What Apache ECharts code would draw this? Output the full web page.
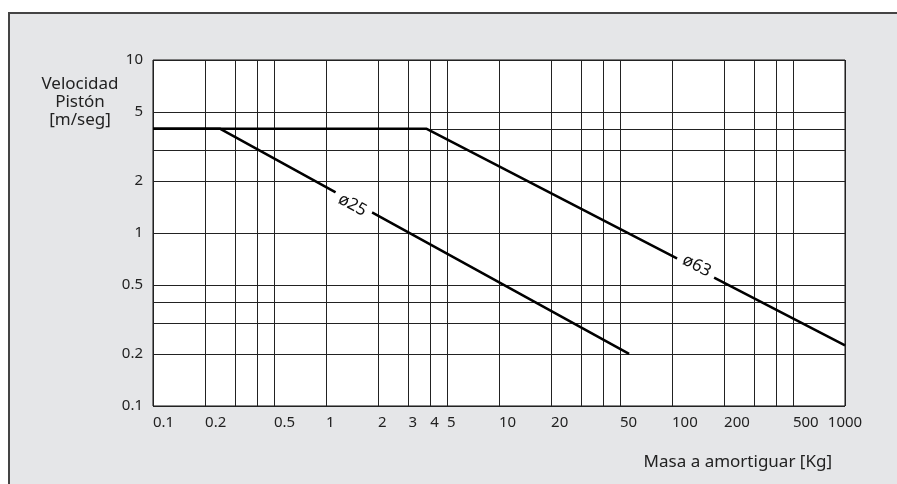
<!DOCTYPE html>
<html>
<head>
<meta charset="utf-8">
<script src="https://cdn.jsdelivr.net/npm/echarts@6/dist/echarts.min.js"></script>
<style>
html, body { margin: 0; padding: 0; background: #ffffff; }
#chart { width: 897px; height: 484px; }
</style>
</head>
<body>
<div id="chart"></div>
<script>
// ejes logaritmicos: masa (Kg) y velocidad (m/seg)
var xGrid = [0.1, 0.2, 0.3, 0.4, 0.5, 1, 2, 3, 4, 5, 10, 20, 30, 40, 50, 100, 200, 300, 400, 500, 1000];
var xLabels = [0.1, 0.2, 0.5, 1, 2, 3, 4, 5, 10, 20, 50, 100, 200, 500, 1000];
var yGrid = [0.1, 0.2, 0.3, 0.4, 0.5, 1, 2, 3, 4, 5, 10];
var yLabels = [0.1, 0.2, 0.5, 1, 2, 5, 10];

// curvas de cada diametro
var d25 = [[0.1, 4], [0.245, 4], [56.5, 0.2]];
var d63 = [[0.1, 4], [3.82, 4], [1000, 0.224]];

// rotulos sobre las curvas
var tagNames = ['ø25', 'ø63'];
var tagPos = [[1.42, 1.45], [139, 0.646]];
var tagAngle = [-28.8, -27.3];

var font = '"Noto Sans", sans-serif';
var myChart = echarts.init(document.getElementById('chart'));

var tagData = [];
for (var i = 0; i < tagNames.length; i++) {
	tagData.push({
		value: tagPos[i],
		label: { formatter: tagNames[i], rotate: tagAngle[i] }
	});
}

function fmt(v) {
	return String(Math.round(v * 1000) / 1000);
}

var option = {
	backgroundColor: '#ffffff',
	animation: false,
	graphic: [{
		type: 'rect',
		z: -10,
		shape: { x: 9, y: 13, width: 900, height: 480 },
		style: { fill: '#e5e6e8', stroke: '#444', lineWidth: 2 }
	}, {
		type: 'text',
		x: 80,
		y: 75,
		style: {
			text: 'Velocidad\nPistón\n[m/seg]',
			font: '17px ' + font,
			fill: '#222',
			textAlign: 'center',
			align: 'center',
			lineHeight: 18
		}
	}, {
		type: 'text',
		x: 832,
		y: 462,
		style: {
			text: 'Masa a amortiguar [Kg]',
			font: '17px ' + font,
			fill: '#222',
			textAlign: 'right',
			align: 'right',
			textVerticalAlign: 'middle',
			verticalAlign: 'middle'
		}
	}],
	grid: {
		left: 153,
		right: 52,
		top: 60,
		bottom: 78,
		show: true,
		backgroundColor: '#ffffff',
		borderColor: '#111',
		borderWidth: 1
	},
	xAxis: {
		type: 'log',
		logBase: 10,
		min: 0.1,
		max: 1000,
		axisLine: { show: false },
		axisTick: { show: false, customValues: xGrid },
		splitLine: { show: true, lineStyle: { color: '#222', width: 1 } },
		axisLabel: {
			customValues: xLabels,
			interval: 0,
			align: 'left',
			alignMaxLabel: 'center',
			margin: 9,
			color: '#222',
			fontSize: 15,
			fontFamily: font,
			formatter: fmt
		}
	},
	yAxis: {
		type: 'log',
		logBase: 10,
		min: 0.1,
		max: 10,
		axisLine: { show: false },
		axisTick: { show: false, customValues: yGrid },
		splitLine: { show: true, lineStyle: { color: '#222', width: 1 } },
		axisLabel: {
			customValues: yLabels,
			interval: 0,
			margin: 10,
			color: '#222',
			fontSize: 15,
			fontFamily: font,
			formatter: fmt
		}
	},
	series: [{
		name: 'ø25',
		type: 'line',
		data: d25,
		showSymbol: false,
		z: 3,
		lineStyle: { color: '#000', width: 2.5 }
	}, {
		name: 'ø63',
		type: 'line',
		data: d63,
		showSymbol: false,
		z: 3,
		lineStyle: { color: '#000', width: 2.5 }
	}, {
		type: 'scatter',
		data: tagData,
		symbolSize: 0,
		z: 5,
		itemStyle: { opacity: 1 },
		label: {
			show: true,
			position: 'inside',
			color: '#111',
			fontSize: 17,
			fontFamily: font,
			backgroundColor: '#ffffff',
			padding: [1, 6]
		}
	}]
};
myChart.setOption(option);
</script>
</body>
</html>
